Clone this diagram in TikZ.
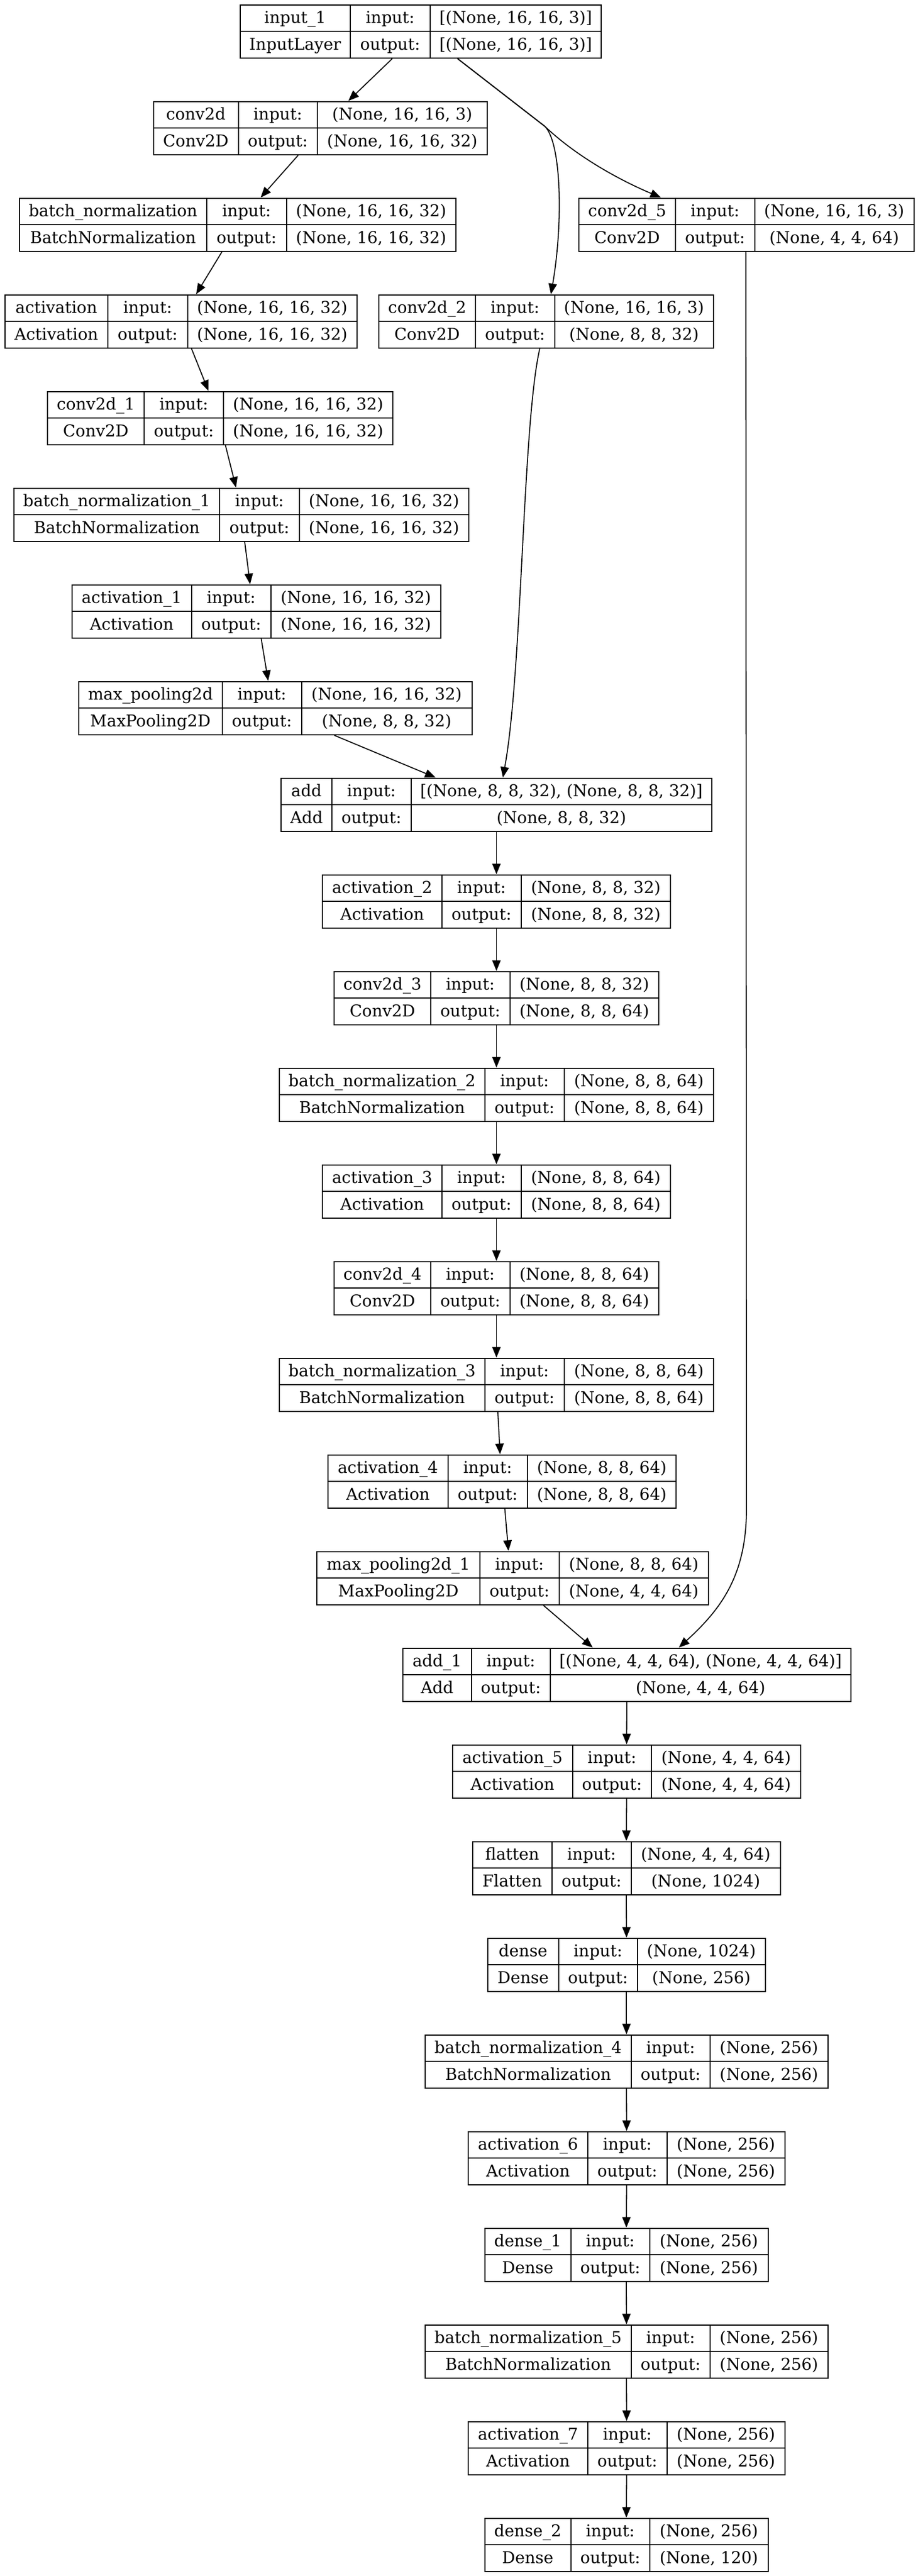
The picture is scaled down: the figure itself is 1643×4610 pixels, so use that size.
\documentclass[tikz,border=0pt]{standalone}
\usepackage{fontspec}
\setmainfont{DejaVu Serif}
\usetikzlibrary{arrows.meta,calc,fit}
\tikzset{
  boxline/.style={line width=1pt},
  lbl/.style={anchor=base, inner sep=0pt, font=\fontsize{14.6}{17}\selectfont},
  edge/.style={line width=0.9pt, -{Triangle[length=9.5pt,width=7.5pt]}},
}
\def\lbcoords#1,#2,#3,#4\relax{\def\lbxa{#1}\def\lbxb{#2}\def\lbxc{#3}\def\lbxd{#4}}
\newcommand\lbox[7]{%
  \lbcoords#2\relax
  \pgfmathsetmacro\lbya{8.5+173*#3}%
  \pgfmathsetmacro\lbyb{\lbya+95.5}%
  \pgfmathsetmacro\lbym{\lbya+47.75}%
  \pgfmathsetmacro\lbta{\lbya+32.5}%
  \pgfmathsetmacro\lbtb{\lbya+80.5}%
  \pgfmathsetmacro\lbca{(\lbxa+\lbxb)/2}%
  \pgfmathsetmacro\lbcb{(\lbxb+\lbxc)/2}%
  \pgfmathsetmacro\lbcc{(\lbxc+\lbxd)/2}%
  \coordinate (#1-nw) at (\lbxa,\lbya);
  \coordinate (#1-se) at (\lbxd,\lbyb);
  \node[fit=(#1-nw)(#1-se), inner sep=0pt, draw, boxline] (#1) {};
  \draw[boxline] (\lbxb,\lbya) -- (\lbxb,\lbyb) (\lbxc,\lbya) -- (\lbxc,\lbyb) (\lbxa,\lbym) -- (\lbxd,\lbym);
  \node[lbl] at (\lbca,\lbta) {#4};
  \node[lbl] at (\lbca,\lbtb) {#5};
  \node[lbl] at (\lbcb,\lbta) {input:};
  \node[lbl] at (\lbcb,\lbtb) {output:};
  \node[lbl] at (\lbcc,\lbta) {#6};
  \node[lbl] at (\lbcc,\lbtb) {#7};
}
\begin{document}
\begin{tikzpicture}[x=0.5pt,y=-0.5pt]
\fill[white] (0,0) rectangle (1643,4610);
\useasboundingbox (0,0) rectangle (1643,4610);

\lbox{input1}{430,626.5,770,1076}{0}{input\_1}{InputLayer}{[(None, 16, 16, 3)]}{[(None, 16, 16, 3)]}
\lbox{conv2d}{274.5,426.5,568,872}{1}{conv2d}{Conv2D}{(None, 16, 16, 3)}{(None, 16, 16, 32)}
\lbox{bn}{34.5,370,512.5,816}{2}{batch\_normalization}{BatchNormalization}{(None, 16, 16, 32)}{(None, 16, 16, 32)}
\lbox{conv2d5}{1036,1209,1350.5,1635.5}{2}{conv2d\_5}{Conv2D}{(None, 16, 16, 3)}{(None, 4, 4, 64)}
\lbox{act}{8.5,193,335.5,639}{3}{activation}{Activation}{(None, 16, 16, 32)}{(None, 16, 16, 32)}
\lbox{conv2d2}{678,851,992.5,1277}{3}{conv2d\_2}{Conv2D}{(None, 16, 16, 3)}{(None, 8, 8, 32)}
\lbox{conv2d1}{85,258,400,703}{4}{conv2d\_1}{Conv2D}{(None, 16, 16, 32)}{(None, 16, 16, 32)}
\lbox{bn1}{25,393,535.5,839}{5}{batch\_normalization\_1}{BatchNormalization}{(None, 16, 16, 32)}{(None, 16, 16, 32)}
\lbox{act1}{129,342.5,485,789}{6}{activation\_1}{Activation}{(None, 16, 16, 32)}{(None, 16, 16, 32)}
\lbox{mp}{140.5,398,539.5,844.5}{7}{max\_pooling2d}{MaxPooling2D}{(None, 16, 16, 32)}{(None, 8, 8, 32)}
\lbox{add}{503,594,735.5,1274}{8}{add}{Add}{[(None, 8, 8, 32), (None, 8, 8, 32)]}{(None, 8, 8, 32)}
\lbox{act2}{577,791,932.5,1200}{9}{activation\_2}{Activation}{(None, 8, 8, 32)}{(None, 8, 8, 32)}
\lbox{conv2d3}{598,771,912.5,1179}{10}{conv2d\_3}{Conv2D}{(None, 8, 8, 32)}{(None, 8, 8, 64)}
\lbox{bn2}{500,867.5,1010,1277}{11}{batch\_normalization\_2}{BatchNormalization}{(None, 8, 8, 64)}{(None, 8, 8, 64)}
\lbox{act3}{577,791,932.5,1200}{12}{activation\_3}{Activation}{(None, 8, 8, 64)}{(None, 8, 8, 64)}
\lbox{conv2d4}{598,771,912.5,1179}{13}{conv2d\_4}{Conv2D}{(None, 8, 8, 64)}{(None, 8, 8, 64)}
\lbox{bn3}{500,867.5,1010,1277}{14}{batch\_normalization\_3}{BatchNormalization}{(None, 8, 8, 64)}{(None, 8, 8, 64)}
\lbox{act4}{587,801.5,944,1210}{15}{activation\_4}{Activation}{(None, 8, 8, 64)}{(None, 8, 8, 64)}
\lbox{mp1}{567,859,1000.5,1268}{16}{max\_pooling2d\_1}{MaxPooling2D}{(None, 8, 8, 64)}{(None, 4, 4, 64)}
\lbox{add1}{721,843.5,985,1522.5}{17}{add\_1}{Add}{[(None, 4, 4, 64), (None, 4, 4, 64)]}{(None, 4, 4, 64)}
\lbox{act5}{810,1024.5,1166,1433}{18}{activation\_5}{Activation}{(None, 4, 4, 64)}{(None, 4, 4, 64)}
\lbox{flat}{845.5,988,1129.5,1396.5}{19}{flatten}{Flatten}{(None, 4, 4, 64)}{(None, 1024)}
\lbox{dense}{873,999.5,1141,1369.5}{20}{dense}{Dense}{(None, 1024)}{(None, 256)}
\lbox{bn4}{761,1129.5,1271,1481.5}{21}{batch\_normalization\_4}{BatchNormalization}{(None, 256)}{(None, 256)}
\lbox{act6}{838,1052,1193.5,1405}{22}{activation\_6}{Activation}{(None, 256)}{(None, 256)}
\lbox{dense1}{867.5,1021.5,1163,1374.5}{23}{dense\_1}{Dense}{(None, 256)}{(None, 256)}
\lbox{bn5}{761,1129.5,1271,1481.5}{24}{batch\_normalization\_5}{BatchNormalization}{(None, 256)}{(None, 256)}
\lbox{act7}{838,1052,1193.5,1405}{25}{activation\_7}{Activation}{(None, 256)}{(None, 256)}
\lbox{dense2}{867.5,1021.5,1163,1374.5}{26}{dense\_2}{Dense}{(None, 256)}{(None, 120)}

% connectors
\coordinate (split) at (975,226);
\coordinate (bend5) at (1336,2700);
\draw[edge] ($(input1.south west)+(273,0)$) -- ($(conv2d.north west)+(350,0)$);
\draw[edge] ($(input1.south west)+(390,0)$) -- (split) .. controls (1035,283) and (1115,325) .. ($(conv2d5.north west)+(148,0)$);
\draw[edge] ($(input1.south west)+(390,0)$) -- (split) .. controls (1005,255) and (1008,400) .. ($(conv2d2.north west)+(309,0)$);
\draw[edge] ($(conv2d.south west)+(260,0)$) -- ($(bn.north west)+(433,0)$);
\draw[edge] ($(bn.south west)+(363.5,0)$) -- ($(act.north west)+(343.5,0)$);
\draw[edge] ($(act.south west)+(335.3,0)$) -- ($(conv2d1.north west)+(289,0)$);
\draw[edge] ($(conv2d1.south west)+(319.5,0)$) -- ($(bn1.north west)+(398.4,0)$);
\draw[edge] ($(bn1.south west)+(414,0)$) -- ($(act1.north west)+(319.6,0)$);
\draw[edge] ($(act1.south west)+(339.5,0)$) -- ($(mp.north west)+(340.5,0)$);
\draw[edge] ($(mp.south west)+(459,0)$) -- ($(add.north west)+(277.6,0)$);
\draw[edge] ($(conv2d2.south west)+(289,0)$) .. controls (935,760) and (935,1200) .. ($(add.north west)+(398,0)$);
\draw[edge] (add.south) -- (act2.north);
\draw[edge] (act2.south) -- (conv2d3.north);
\draw[edge] (conv2d3.south) -- (bn2.north);
\draw[edge] (bn2.south) -- (act3.north);
\draw[edge] (act3.south) -- (conv2d4.north);
\draw[edge] (conv2d4.south) -- (bn3.north);
\draw[edge] ($(bn3.south west)+(392,0)$) -- ($(act4.north west)+(309,0)$);
\draw[edge] ($(act4.south west)+(317.5,0)$) -- ($(mp1.north west)+(344,0)$);
\draw[edge] ($(mp1.south west)+(406.7,0)$) -- ($(add1.north west)+(340.8,0)$);
\draw[edge] ($(conv2d5.south west)+(300,0)$) -- (bend5) .. controls (1336,2820) and (1290,2880) .. ($(add1.north west)+(495,0)$);
\draw[edge] (add1.south) -- (act5.north);
\draw[edge] (act5.south) -- (flat.north);
\draw[edge] (flat.south) -- (dense.north);
\draw[edge] (dense.south) -- (bn4.north);
\draw[edge] (bn4.south) -- (act6.north);
\draw[edge] (act6.south) -- (dense1.north);
\draw[edge] (dense1.south) -- (bn5.north);
\draw[edge] (bn5.south) -- (act7.north);
\draw[edge] (act7.south) -- (dense2.north);
\end{tikzpicture}
\end{document}
